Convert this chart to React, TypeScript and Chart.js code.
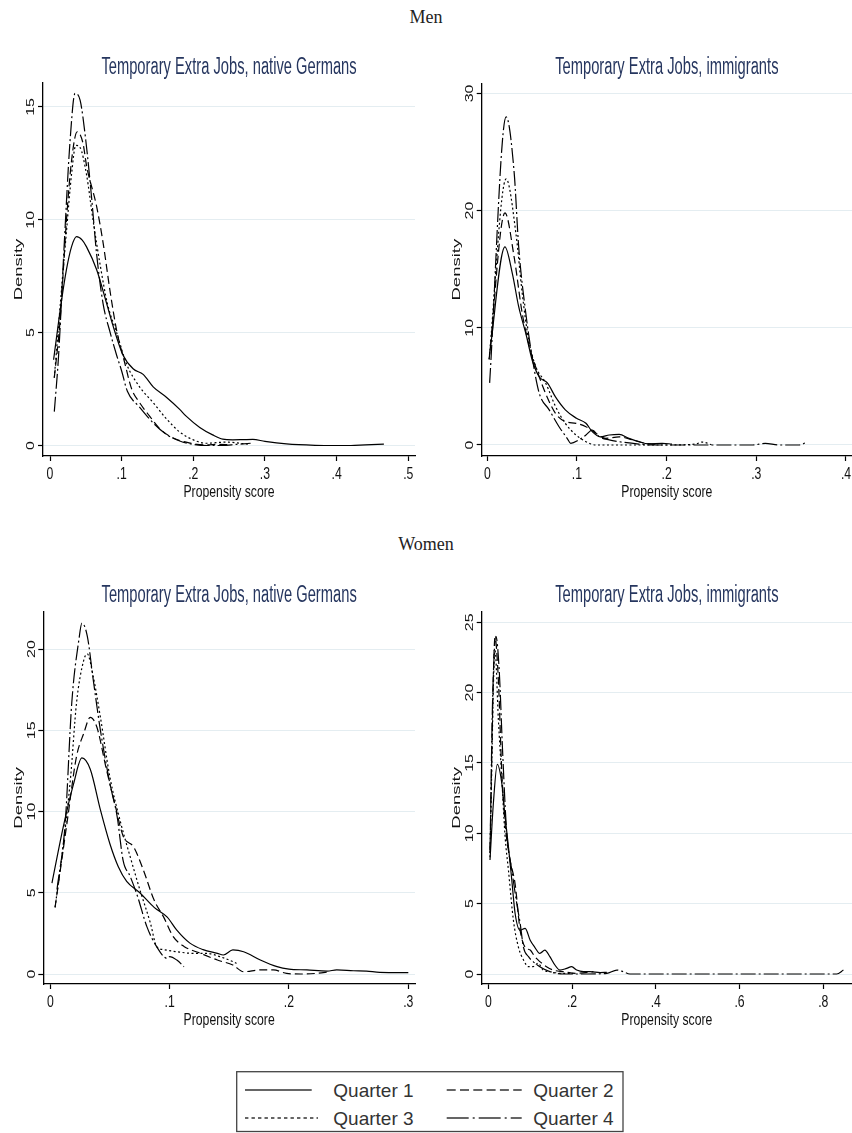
import React, { useEffect, useRef } from "react";
import { Chart, registerables } from "chart.js";
Chart.register(...registerables);

type Pt = [number, number];

// ---------- DATA ----------
const SERIES_LABELS = ["Quarter 1", "Quarter 2", "Quarter 3", "Quarter 4"];
const GROUP_TITLES = ["Men", "Women"];
const PANEL_TITLES = ["Temporary Extra Jobs, native Germans", "Temporary Extra Jobs, immigrants"];
const X_TITLE = "Propensity score";
const Y_TITLE = "Density";

// Men, native Germans
const MEN_NAT_Q1: Pt[] = [[0.005,3.8],[0.016,6.4],[0.023,7.8],[0.03,8.8],[0.037,9.25],[0.045,9.1],[0.051,8.8],[0.065,7.8],[0.079,6.3],[0.088,5.3],[0.102,4.0],[0.116,3.4],[0.13,3.15],[0.144,2.6],[0.162,2.15],[0.181,1.6],[0.19,1.3],[0.209,0.8],[0.227,0.47],[0.241,0.28],[0.255,0.25],[0.27,0.26],[0.283,0.27],[0.3,0.18],[0.33,0.07],[0.37,0.01],[0.4,0],[0.42,0],[0.44,0.03],[0.466,0.06]];
const MEN_NAT_Q2: Pt[] = [[0.006,3.0],[0.014,5.5],[0.023,10.0],[0.03,12.6],[0.038,13.9],[0.046,13.4],[0.051,12.4],[0.065,10.6],[0.074,9.0],[0.084,6.8],[0.093,5.1],[0.104,3.7],[0.114,2.5],[0.125,1.9],[0.139,1.3],[0.153,0.75],[0.172,0.33],[0.19,0.15],[0.205,0.05],[0.218,0.03],[0.235,0.05],[0.25,0.04]];
const MEN_NAT_Q3: Pt[] = [[0.006,3.0],[0.015,6.5],[0.023,9.5],[0.03,12.0],[0.036,13.3],[0.042,13.2],[0.051,12.0],[0.06,10.0],[0.07,8.0],[0.08,6.3],[0.093,5.0],[0.107,3.6],[0.125,2.6],[0.144,1.9],[0.162,1.2],[0.181,0.6],[0.2,0.25],[0.218,0.1],[0.245,0.15],[0.278,0.05]];
const MEN_NAT_Q4: Pt[] = [[0.006,1.5],[0.012,4.0],[0.02,9.0],[0.028,13.5],[0.035,15.6],[0.042,15.3],[0.05,13.5],[0.058,11.0],[0.065,8.5],[0.074,6.3],[0.084,5.0],[0.093,4.0],[0.1,3.3],[0.108,2.4],[0.125,1.7],[0.144,1.0],[0.162,0.5],[0.181,0.2],[0.2,0.05],[0.22,0],[0.24,0],[0.26,0.05],[0.28,0.1]];
const MEN_NAT_XTICKS = [0, 0.1, 0.2, 0.3, 0.4, 0.5];
const MEN_NAT_XLABELS = ["0", ".1", ".2", ".3", ".4", ".5"];
const MEN_NAT_YTICKS = [0, 5, 10, 15];
const MEN_NAT_YLABELS = ["0", "5", "10", "15"];

// Men, immigrants
const MEN_IMM_Q1: Pt[] = [[0.0026,7.8],[0.0197,16.9],[0.028,14.6],[0.035,11.8],[0.043,9.5],[0.05,7.25],[0.058,5.8],[0.067,5.3],[0.076,4.1],[0.087,3.0],[0.099,2.3],[0.11,1.85],[0.117,1.14],[0.126,0.7],[0.136,0.85],[0.147,0.9],[0.158,0.57],[0.169,0.28],[0.18,0.1],[0.195,0.14],[0.206,0.08]];
const MEN_IMM_Q2: Pt[] = [[0.002,7.3],[0.0197,19.8],[0.03,16.0],[0.039,11.2],[0.048,8.1],[0.058,5.8],[0.065,4.4],[0.076,2.7],[0.087,2.0],[0.099,1.85],[0.11,1.56],[0.121,1.0],[0.132,0.57],[0.147,0.7],[0.162,0.43],[0.177,0.14],[0.19,0.06]];
const MEN_IMM_Q3: Pt[] = [[0.002,7.3],[0.021,22.7],[0.032,18.0],[0.039,12.9],[0.046,9.0],[0.054,6.7],[0.065,5.3],[0.076,3.3],[0.087,1.85],[0.099,0.85],[0.11,0.28],[0.121,0],[0.15,0],[0.2,0],[0.232,0.08],[0.24,0.25],[0.25,0.02]];
const MEN_IMM_Q4: Pt[] = [[0.0026,5.3],[0.021,28.0],[0.03,23.2],[0.035,16.9],[0.043,11.2],[0.05,7.5],[0.058,4.4],[0.069,3.0],[0.08,1.56],[0.089,0.57],[0.093,0.14],[0.102,0.43],[0.11,0.85],[0.117,1.28],[0.125,0.7],[0.136,0.43],[0.147,0.28],[0.169,0.08],[0.184,0],[0.296,0],[0.31,0.14],[0.325,0],[0.348,0],[0.357,0.28]];
const MEN_IMM_XTICKS = [0, 0.1, 0.2, 0.3, 0.4];
const MEN_IMM_XLABELS = ["0", ".1", ".2", ".3", ".4"];
const MEN_IMM_YTICKS = [0, 10, 20, 30];
const MEN_IMM_YLABELS = ["0", "10", "20", "30"];

// Women, native Germans
const WOM_NAT_Q1: Pt[] = [[0.0014,5.6],[0.011,9.1],[0.0195,11.7],[0.0265,13.3],[0.0335,12.6],[0.042,10.1],[0.05,8.0],[0.057,6.6],[0.064,5.7],[0.075,5.0],[0.087,4.1],[0.098,3.5],[0.106,2.7],[0.117,1.9],[0.128,1.5],[0.14,1.27],[0.145,1.17],[0.153,1.48],[0.162,1.37],[0.176,0.86],[0.19,0.45],[0.2,0.3],[0.215,0.25],[0.232,0.18],[0.24,0.25],[0.254,0.2],[0.265,0.18],[0.276,0.1],[0.3,0.08]];
const WOM_NAT_Q2: Pt[] = [[0.004,4.1],[0.014,9.3],[0.022,13.4],[0.028,14.8],[0.0335,15.8],[0.039,15.2],[0.047,12.6],[0.054,10.5],[0.061,8.5],[0.07,7.8],[0.078,6.4],[0.087,4.55],[0.095,3.5],[0.103,2.3],[0.112,1.7],[0.126,1.27],[0.14,0.86],[0.153,0.55],[0.162,0.14],[0.176,0.25],[0.187,0.25],[0.198,0.04],[0.21,0],[0.223,0.04],[0.234,0.14]];
const WOM_NAT_Q3: Pt[] = [[0.004,4.1],[0.011,8.0],[0.017,12.1],[0.022,16.7],[0.028,19.3],[0.031,19.7],[0.036,18.3],[0.042,15.8],[0.05,12.1],[0.059,9.3],[0.067,7.2],[0.075,5.2],[0.084,3.1],[0.089,1.7],[0.095,1.5],[0.106,1.37],[0.12,1.27],[0.131,1.27],[0.142,1.07],[0.153,0.76],[0.156,0.65]];
const WOM_NAT_Q4: Pt[] = [[0.0056,5.2],[0.0125,9.3],[0.018,16.7],[0.024,20.6],[0.0265,21.6],[0.031,20.8],[0.036,18.1],[0.042,15.0],[0.05,11.7],[0.056,9.7],[0.061,7.0],[0.067,6.0],[0.073,4.8],[0.081,2.9],[0.089,1.7],[0.098,0.96],[0.1,1.07],[0.106,0.86],[0.112,0.45]];
const WOM_NAT_XTICKS = [0, 0.1, 0.2, 0.3];
const WOM_NAT_XLABELS = ["0", ".1", ".2", ".3"];
const WOM_NAT_YTICKS = [0, 5, 10, 15, 20];
const WOM_NAT_YLABELS = ["0", "5", "10", "15", "20"];

// Women, immigrants
const WOM_IMM_Q1: Pt[] = [[0.004,8.1],[0.012,12.1],[0.0215,14.9],[0.032,13.6],[0.04,11.2],[0.048,9.05],[0.056,6.7],[0.064,4.3],[0.076,3.1],[0.088,3.25],[0.1,2.4],[0.111,1.9],[0.123,1.47],[0.135,1.7],[0.147,1.23],[0.159,0.64],[0.171,0.28],[0.187,0.4],[0.199,0.52],[0.211,0.28],[0.227,0.17],[0.243,0.17],[0.267,0.1],[0.283,0.12]];
const WOM_IMM_Q2: Pt[] = [[0.004,8.8],[0.016,23.9],[0.024,20.9],[0.032,14.5],[0.04,10.7],[0.052,8.1],[0.064,6.4],[0.076,3.1],[0.088,1.9],[0.1,1.7],[0.111,1.23],[0.123,0.88],[0.139,0.52],[0.155,0.28],[0.179,0.17],[0.211,0.05],[0.251,0.17]];
const WOM_IMM_Q3: Pt[] = [[0.004,8.3],[0.016,23.0],[0.024,18.1],[0.032,14.0],[0.04,9.8],[0.048,7.4],[0.06,3.8],[0.072,1.9],[0.084,1.0],[0.096,0.52],[0.107,0.52],[0.119,0.76],[0.131,0.28],[0.147,0.17],[0.171,0.05],[0.203,0.05]];
const WOM_IMM_Q4: Pt[] = [[0.004,8.6],[0.01,19.2],[0.018,24.0],[0.026,21.6],[0.034,15.9],[0.044,10.0],[0.056,7.4],[0.068,5.0],[0.076,3.6],[0.084,1.9],[0.096,1.23],[0.107,0.88],[0.123,0.52],[0.147,0.17],[0.179,0],[0.235,0],[0.283,0.05],[0.307,0.28],[0.322,0.17],[0.338,0],[0.6,0],[0.832,0],[0.848,0.28]];
const WOM_IMM_XTICKS = [0, 0.2, 0.4, 0.6, 0.8];
const WOM_IMM_XLABELS = ["0", ".2", ".4", ".6", ".8"];
const WOM_IMM_YTICKS = [0, 5, 10, 15, 20, 25];
const WOM_IMM_YLABELS = ["0", "5", "10", "15", "20", "25"];

// ---------- STYLE ----------
const DASHES_PLOT: number[][] = [[], [8, 4], [2, 2.5], [15, 3, 2, 3]];
const DASHES_LEGEND: string[] = ["", "9 4.3", "3.4 3.1", "22 4 2 4"];
const SANS = '"Liberation Sans", Arial, Helvetica, sans-serif';
const TITLE_COLOR = "#26365f";
const GRID_COLOR = "#e4edf1";

type PanelCfg = {
  box: { x: number; y: number; w: number; h: number };
  area: { l: number; t: number; r: number; b: number };
  xRange: [number, number];
  yRange: [number, number];
  series: Pt[][];
  title: string;
  xTicks: number[];
  xLabels: string[];
  yTicks: number[];
  yLabels: string[];
};

const PANELS: PanelCfg[] = [
  {
    box: { x: 0, y: 30, w: 426, h: 490 },
    area: { l: 43, t: 83, r: 415, b: 456 },
    xRange: [-0.00977, 0.5094],
    yRange: [-0.465, 16.06],
    series: [MEN_NAT_Q1, MEN_NAT_Q2, MEN_NAT_Q3, MEN_NAT_Q4],
    title: PANEL_TITLES[0],
    xTicks: MEN_NAT_XTICKS, xLabels: MEN_NAT_XLABELS,
    yTicks: MEN_NAT_YTICKS, yLabels: MEN_NAT_YLABELS,
  },
  {
    box: { x: 426, y: 30, w: 426, h: 490 },
    area: { l: 481.7, t: 83.3, r: 852, b: 456 },
    xRange: [-0.00625, 0.4067],
    yRange: [-0.94, 30.86],
    series: [MEN_IMM_Q1, MEN_IMM_Q2, MEN_IMM_Q3, MEN_IMM_Q4],
    title: PANEL_TITLES[1],
    xTicks: MEN_IMM_XTICKS, xLabels: MEN_IMM_XLABELS,
    yTicks: MEN_IMM_YTICKS, yLabels: MEN_IMM_YLABELS,
  },
  {
    box: { x: 0, y: 560, w: 426, h: 480 },
    area: { l: 43.3, t: 611.7, r: 415, b: 984 },
    xRange: [-0.00586, 0.3056],
    yRange: [-0.615, 22.3],
    series: [WOM_NAT_Q1, WOM_NAT_Q2, WOM_NAT_Q3, WOM_NAT_Q4],
    title: PANEL_TITLES[0],
    xTicks: WOM_NAT_XTICKS, xLabels: WOM_NAT_XLABELS,
    yTicks: WOM_NAT_YTICKS, yLabels: WOM_NAT_YLABELS,
  },
  {
    box: { x: 426, y: 560, w: 426, h: 480 },
    area: { l: 481.7, t: 611.7, r: 852, b: 984 },
    xRange: [-0.0158, 0.8685],
    yRange: [-0.71, 25.75],
    series: [WOM_IMM_Q1, WOM_IMM_Q2, WOM_IMM_Q3, WOM_IMM_Q4],
    title: PANEL_TITLES[1],
    xTicks: WOM_IMM_XTICKS, xLabels: WOM_IMM_XLABELS,
    yTicks: WOM_IMM_YTICKS, yLabels: WOM_IMM_YLABELS,
  },
];

const Y_AXIS_W = 6;
const X_AXIS_H = 6;

function drawText(
  ctx: CanvasRenderingContext2D,
  text: string,
  x: number,
  y: number,
  font: string,
  color: string,
  sx: number,
  rotate: boolean
) {
  ctx.save();
  ctx.translate(x, y);
  ctx.scale(sx, 1);
  if (rotate) ctx.rotate(-Math.PI / 2);
  ctx.font = font;
  ctx.fillStyle = color;
  ctx.textAlign = "center";
  ctx.textBaseline = "alphabetic";
  ctx.fillText(text, 0, 0);
  ctx.restore();
}

const stataText = {
  id: "stataText",
  afterDraw(chart: any, _args: any, opts: any) {
    const ctx: CanvasRenderingContext2D = chart.ctx;
    const a = chart.chartArea;
    const xs = chart.scales.x;
    const ys = chart.scales.y;
    // panel title
    drawText(ctx, opts.title, (a.left + a.right) / 2, a.top - 9.5, `23px ${SANS}`, TITLE_COLOR, 0.64, false);
    // x tick labels
    xs.ticks.forEach((t: any, i: number) => {
      drawText(ctx, opts.xLabels[i], xs.getPixelForValue(t.value), a.bottom + 23.3, `17px ${SANS}`, "#111", 0.72, false);
    });
    // y tick labels (rotated)
    ys.ticks.forEach((t: any, i: number) => {
      drawText(ctx, opts.yLabels[i], a.left - 8.7, ys.getPixelForValue(t.value), `16px ${SANS}`, "#111", 0.72, true);
    });
    // axis titles
    drawText(ctx, opts.xTitle, (a.left + a.right) / 2, a.bottom + 40.5, `17px ${SANS}`, "#111", 0.72, false);
    drawText(ctx, opts.yTitle, a.left - 21.5, (a.top + a.bottom) / 2, `18.5px ${SANS}`, "#111", 0.6, true);
  },
};

function Panel({ cfg }: { cfg: PanelCfg }) {
  const ref = useRef<HTMLCanvasElement>(null);
  useEffect(() => {
    const { box, area } = cfg;
    const chart = new Chart(ref.current as HTMLCanvasElement, {
      type: "line",
      data: {
        datasets: cfg.series.map((s, i) => ({
          label: SERIES_LABELS[i],
          data: s.map(([x, y]) => ({ x, y })),
          borderColor: "#000",
          borderWidth: 1.2,
          borderDash: DASHES_PLOT[i],
          pointRadius: 0,
          fill: false,
          cubicInterpolationMode: "monotone",
        })),
      },
      options: {
        animation: false,
        responsive: false,
        devicePixelRatio: 1,
        events: [],
        layout: {
          padding: {
            left: area.l - box.x - Y_AXIS_W,
            top: area.t - box.y,
            right: box.x + box.w - area.r,
            bottom: box.y + box.h - area.b - X_AXIS_H,
          },
        },
        plugins: {
          legend: { display: false },
          tooltip: { enabled: false },
          title: { display: false },
          stataText: {
            title: cfg.title,
            xLabels: cfg.xLabels,
            yLabels: cfg.yLabels,
            xTitle: X_TITLE,
            yTitle: Y_TITLE,
          },
        } as any,
        scales: {
          x: {
            type: "linear",
            min: cfg.xRange[0],
            max: cfg.xRange[1],
            afterBuildTicks: (s: any) => {
              s.ticks = cfg.xTicks.map((v) => ({ value: v }));
            },
            afterFit: (s: any) => {
              s.height = X_AXIS_H;
            },
            ticks: { display: false },
            grid: {
              display: true,
              drawOnChartArea: false,
              drawTicks: true,
              tickLength: 5,
              tickColor: "#000",
              tickWidth: 1.2,
            },
            border: { display: true, color: "#000", width: 1.3 },
          },
          y: {
            type: "linear",
            min: cfg.yRange[0],
            max: cfg.yRange[1],
            afterBuildTicks: (s: any) => {
              s.ticks = cfg.yTicks.map((v) => ({ value: v }));
            },
            afterFit: (s: any) => {
              s.width = Y_AXIS_W;
            },
            ticks: { display: false },
            grid: {
              display: true,
              color: GRID_COLOR,
              lineWidth: 1,
              drawTicks: true,
              tickLength: 5,
              tickColor: "#000",
              tickWidth: 1.2,
            },
            border: { display: true, color: "#000", width: 1.3 },
          },
        } as any,
      },
      plugins: [stataText as any],
    } as any);
    return () => chart.destroy();
  }, [cfg]);
  return (
    <canvas
      ref={ref}
      width={cfg.box.w}
      height={cfg.box.h}
      style={{ position: "absolute", left: cfg.box.x, top: cfg.box.y, width: cfg.box.w, height: cfg.box.h }}
    />
  );
}

function Legend() {
  const oy = 1050;
  const rows = [1090 - oy, 1118 - oy];
  const items = [
    { i: 0, x1: 245, x2: 311.7, tx: 333.3, r: 0 },
    { i: 1, x1: 446.7, x2: 521.7, tx: 533.3, r: 0 },
    { i: 2, x1: 245, x2: 318, tx: 333.3, r: 1 },
    { i: 3, x1: 446.7, x2: 521.7, tx: 533.3, r: 1 },
  ];
  return (
    <svg
      width={852}
      height={83}
      style={{ position: "absolute", left: 0, top: oy }}
    >
      <rect x={236.7} y={1071.7 - oy} width={386.3} height={59.8} fill="#fff" stroke="#444" strokeWidth={1.3} />
      {items.map((it) => (
        <g key={it.i}>
          <line
            x1={it.x1}
            x2={it.x2}
            y1={rows[it.r]}
            y2={rows[it.r]}
            stroke="#333"
            strokeWidth={1.3}
            strokeDasharray={DASHES_LEGEND[it.i] || undefined}
          />
          <text x={it.tx} y={rows[it.r] + 6.8} fontFamily={SANS} fontSize={19} fill="#333">
            {SERIES_LABELS[it.i]}
          </text>
        </g>
      ))}
    </svg>
  );
}

export default function App() {
  const headStyle = (top: number): React.CSSProperties => ({
    position: "absolute",
    left: 0,
    top,
    width: 852,
    textAlign: "center",
    fontFamily: '"Liberation Serif", "Times New Roman", serif',
    fontSize: 18,
    lineHeight: "20px",
    color: "#222",
  });
  return (
    <div style={{ position: "absolute", left: 0, top: 0, width: 852, height: 1133, background: "#fff", overflow: "hidden" }}>
      <div style={headStyle(7)}>{GROUP_TITLES[0]}</div>
      <div style={headStyle(534)}>{GROUP_TITLES[1]}</div>
      {PANELS.map((p, i) => (
        <Panel key={i} cfg={p} />
      ))}
      <Legend />
    </div>
  );
}
